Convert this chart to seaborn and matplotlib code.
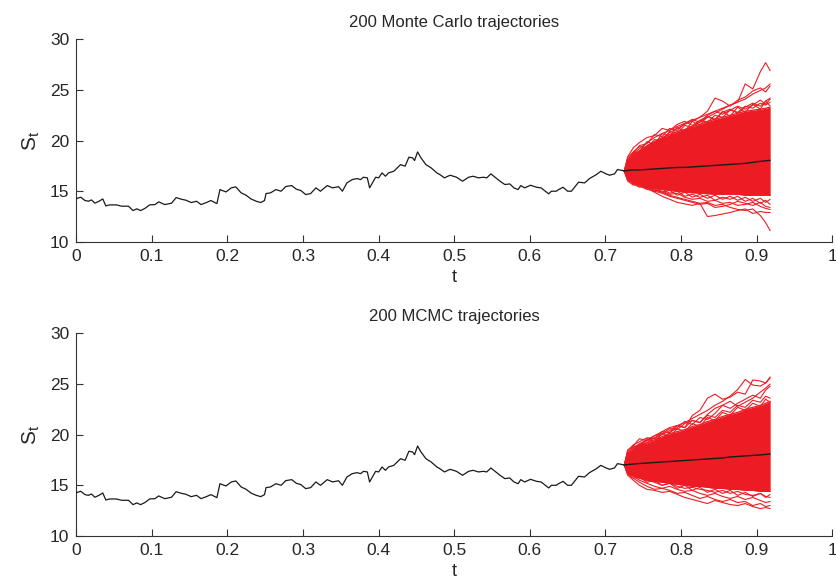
import numpy as np
import pandas as pd
import matplotlib
matplotlib.use("Agg")
import matplotlib.pyplot as plt
import seaborn as sns

sns.set_theme(style="white")
plt.rcParams["font.family"] = ["Liberation Sans", "DejaVu Sans"]

RED = "#ed1c24"
BLACK = "#1a1a1a"

# observed path (same in both panels)
OBS_T = [0.0005, 0.0058, 0.0115, 0.016, 0.020, 0.0246, 0.030, 0.035, 0.039, 0.044,
         0.053, 0.060, 0.069, 0.075, 0.080, 0.085, 0.0905, 0.097, 0.104, 0.109,
         0.117, 0.126, 0.132, 0.139, 0.145, 0.152, 0.159, 0.165, 0.172, 0.178,
         0.186, 0.190, 0.198, 0.205, 0.211, 0.218, 0.2245, 0.231, 0.238, 0.244,
         0.249, 0.251, 0.257, 0.264, 0.271, 0.277, 0.285, 0.291, 0.297, 0.3035,
         0.310, 0.317, 0.323, 0.332, 0.339, 0.347, 0.352, 0.358, 0.365, 0.3715,
         0.376, 0.380, 0.385, 0.388, 0.396, 0.400, 0.4045, 0.409, 0.413, 0.420,
         0.429, 0.435, 0.440, 0.445, 0.4475, 0.4515, 0.456, 0.4625, 0.4695, 0.477,
         0.481, 0.487, 0.4946, 0.503, 0.511, 0.519, 0.525, 0.532, 0.5385, 0.543,
         0.5485, 0.554, 0.5605, 0.567, 0.5735, 0.579, 0.5845, 0.588, 0.593, 0.601,
         0.609, 0.615, 0.6205, 0.625, 0.6285, 0.635, 0.638, 0.644, 0.650, 0.655,
         0.6645, 0.6725, 0.679, 0.688, 0.694, 0.701, 0.7055, 0.712, 0.716, 0.723,
         0.725]
OBS_S = [14.28, 14.41, 14.08, 14.01, 14.14, 13.82, 14.01, 14.24, 13.55, 13.65,
         13.65, 13.52, 13.52, 13.09, 13.26, 13.09, 13.29, 13.65, 13.68, 13.95,
         13.68, 13.82, 14.37, 14.21, 14.11, 13.88, 14.01, 13.68, 13.88, 14.08,
         13.78, 15.16, 14.93, 15.33, 15.43, 14.84, 14.61, 14.24, 14.01, 13.88,
         14.08, 14.77, 14.84, 15.16, 15.0, 15.46, 15.56, 15.2, 15.07, 14.67,
         14.77, 15.33, 15.0, 15.56, 15.33, 15.45, 15.0, 15.82, 16.15, 16.25,
         16.15, 16.38, 16.32, 15.33, 16.38, 16.32, 16.81, 16.48, 16.81, 16.97,
         17.63, 17.47, 18.36, 18.29, 18.03, 18.88, 18.29, 17.63, 17.3, 16.81,
         16.64, 16.32, 16.58, 16.38, 15.99, 16.38, 16.48, 16.32, 16.38, 16.32,
         16.71, 16.38, 15.99, 15.66, 15.72, 15.33, 15.16, 15.56, 15.33, 15.59,
         15.39, 15.33, 15.0, 14.74, 15.0, 15.0, 15.16, 15.39, 15.0, 15.0,
         15.89, 15.82, 16.25, 16.64, 16.97, 16.71, 16.58, 16.71, 17.14, 17.04,
         17.0]

# forecast grid
RED_T = [0.725, 0.7295, 0.737, 0.745, 0.755, 0.765, 0.775, 0.785, 0.795, 0.805, 0.815,
         0.825, 0.835, 0.845, 0.855, 0.865, 0.875, 0.885, 0.895, 0.905, 0.912, 0.918]

# Monte Carlo panel
MC_UP = [17.0, 18.0, 18.6, 19.0, 19.5, 19.9, 20.3, 20.6, 20.9, 21.1, 21.4,
         21.6, 21.9, 22.1, 22.3, 22.5, 22.7, 22.9, 23.0, 23.1, 23.2, 23.3]
MC_LO = [17.0, 16.1, 15.8, 15.6, 15.4, 15.3, 15.2, 15.1, 15.0, 14.9, 14.85,
         14.8, 14.75, 14.7, 14.7, 14.7, 14.7, 14.6, 14.6, 14.6, 14.6, 14.6]
MC_MEAN = [17.0, 17.05, 17.1, 17.1, 17.15, 17.2, 17.25, 17.3, 17.35, 17.35, 17.4,
           17.45, 17.5, 17.55, 17.6, 17.65, 17.7, 17.75, 17.85, 17.95, 18.0, 18.05]
MC_PATHS = [
    [17.0, 17.5, 18.0, 18.4, 18.9, 19.3, 19.7, 20.2, 20.6, 21.0, 21.4,
     21.8, 22.3, 22.7, 23.1, 23.5, 23.8, 25.6, 25.1, 26.8, 27.7, 26.9],
    [17.0, 17.8, 18.5, 18.9, 19.4, 19.8, 20.2, 20.8, 21.2, 21.6, 22.0,
     22.3, 22.9, 24.2, 23.9, 23.4, 24.0, 24.3, 24.9, 25.2, 24.8, 25.4],
    [17.0, 17.9, 18.7, 19.2, 19.8, 20.3, 20.7, 21.0, 21.4, 21.7, 21.9,
     22.3, 22.6, 22.9, 23.2, 23.5, 23.8, 24.1, 24.6, 24.95, 25.2, 25.6],
    [17.0, 18.4, 19.3, 19.8, 20.3, 20.5, 21.2, 21.0, 21.6, 21.9, 21.5,
     22.0, 22.4, 22.1, 22.8, 23.1, 22.7, 23.3, 23.7, 23.4, 23.9, 24.2],
    [17.0, 18.1, 18.8, 19.5, 19.7, 20.6, 20.4, 21.2, 21.0, 21.7, 22.1,
     21.8, 22.5, 22.9, 22.6, 23.0, 23.4, 23.1, 23.5, 24.0, 23.6, 24.1],
    [17.0, 18.3, 18.9, 19.4, 19.3, 20.1, 20.0, 20.9, 20.7, 21.5, 21.3,
     22.0, 21.8, 22.5, 22.3, 23.0, 22.8, 23.4, 23.2, 23.7, 23.5, 23.8],
    [17.0, 17.9, 18.8, 18.9, 19.9, 19.6, 20.7, 20.4, 21.3, 20.9, 21.9,
     21.5, 22.4, 22.0, 22.9, 22.4, 23.3, 22.8, 23.6, 23.1, 23.9, 23.4],
    [17.0, 16.4, 16.0, 15.7, 15.4, 15.1, 14.9, 14.6, 14.4, 14.2, 14.0,
     13.8, 13.9, 13.6, 13.7, 13.4, 13.2, 13.1, 13.25, 12.6, 11.9, 11.1],
    [17.0, 16.2, 15.9, 15.6, 15.3, 14.9, 14.5, 14.2, 13.9, 13.75, 13.6,
     13.8, 12.5, 12.6, 12.75, 12.9, 13.1, 13.25, 12.8, 13.0, 12.9, 12.9],
    [17.0, 16.3, 15.8, 15.5, 15.2, 15.0, 14.8, 14.5, 14.3, 14.1, 13.9,
     13.7, 13.8, 13.4, 13.5, 13.7, 14.0, 13.8, 13.6, 13.9, 13.5, 13.4],
    [17.0, 16.5, 16.1, 15.8, 15.5, 15.2, 15.0, 14.7, 14.8, 14.4, 14.2,
     14.3, 14.0, 14.1, 13.8, 13.9, 13.6, 13.7, 13.9, 13.5, 13.3, 13.2],
    [17.0, 16.0, 15.6, 15.7, 15.2, 15.4, 14.9, 15.1, 14.6, 14.9, 14.4,
     14.7, 14.3, 14.6, 14.2, 14.5, 14.1, 14.4, 14.0, 14.3, 13.9, 14.2],
    [17.0, 16.2, 15.7, 15.4, 15.5, 15.0, 15.2, 14.8, 15.0, 14.5, 14.7,
     14.4, 14.6, 14.1, 14.4, 14.2, 14.5, 14.0, 14.3, 13.8, 14.1, 13.7],
]

# MCMC panel
MCMC_UP = [17.0, 18.2, 18.7, 19.0, 19.2, 19.5, 19.8, 20.1, 20.3, 20.5, 20.8,
           21.0, 21.3, 21.5, 21.8, 22.0, 22.2, 22.5, 22.7, 22.9, 23.1, 23.3]
MCMC_LO = [17.0, 16.2, 15.9, 15.7, 15.5, 15.4, 15.3, 15.2, 15.1, 15.0, 14.9,
           14.9, 14.8, 14.7, 14.7, 14.6, 14.6, 14.5, 14.5, 14.4, 14.4, 14.4]
MCMC_MEAN = [17.0, 17.05, 17.1, 17.15, 17.2, 17.25, 17.3, 17.35, 17.4, 17.45, 17.5,
             17.55, 17.6, 17.65, 17.7, 17.8, 17.85, 17.9, 17.95, 18.0, 18.05, 18.1]
MCMC_PATHS = [
    [17.0, 17.9, 18.5, 19.0, 19.4, 19.7, 20.0, 20.4, 20.9, 21.2, 21.6,
     22.0, 22.4, 22.9, 23.3, 23.8, 24.45, 25.45, 24.9, 24.8, 25.1, 25.6],
    [17.0, 18.5, 18.9, 19.6, 19.4, 19.9, 20.3, 20.7, 20.9, 20.7, 21.9,
     22.4, 23.6, 24.0, 23.5, 23.7, 24.2, 24.0, 25.4, 25.3, 25.1, 25.7],
    [17.0, 18.2, 18.7, 19.1, 19.5, 19.9, 20.1, 20.6, 20.5, 21.1, 21.4,
     21.2, 22.0, 22.6, 22.9, 22.6, 23.1, 23.5, 23.9, 23.6, 24.4, 24.8],
    [17.0, 17.8, 18.4, 18.9, 19.2, 19.7, 19.6, 20.2, 20.7, 21.3, 21.0,
     21.7, 21.5, 22.1, 22.9, 23.3, 22.8, 23.2, 23.6, 24.2, 24.6, 25.0],
    [17.0, 18.4, 19.0, 19.3, 19.7, 19.6, 20.3, 20.2, 20.9, 20.7, 21.4,
     21.2, 21.9, 21.7, 22.4, 22.2, 22.9, 22.7, 23.4, 23.2, 23.8, 23.6],
    [17.0, 18.0, 18.9, 18.8, 19.6, 19.3, 20.1, 19.8, 20.6, 20.3, 21.1,
     20.8, 21.7, 21.4, 22.2, 21.9, 22.7, 22.4, 23.1, 22.8, 23.5, 23.2],
    [17.0, 16.0, 15.5, 15.0, 14.6, 14.5, 14.3, 14.4, 14.1, 13.8, 13.6,
     13.4, 13.2, 13.5, 13.3, 13.1, 13.0, 13.2, 12.9, 12.7, 12.8, 12.7],
    [17.0, 16.2, 15.7, 15.3, 14.9, 14.6, 14.7, 14.5, 14.2, 14.3, 14.0,
     13.7, 13.9, 13.6, 13.4, 13.6, 13.3, 13.4, 13.0, 13.2, 12.9, 13.0],
    [17.0, 16.4, 15.9, 15.5, 15.2, 14.9, 14.7, 14.9, 14.6, 14.4, 14.5,
     14.2, 14.0, 14.2, 13.9, 13.7, 13.9, 13.6, 13.8, 13.5, 13.3, 13.4],
    [17.0, 16.6, 16.2, 15.8, 15.5, 15.3, 15.0, 15.2, 14.9, 14.7, 14.8,
     14.6, 14.5, 14.3, 14.5, 14.2, 14.4, 14.1, 14.0, 14.2, 13.9, 13.8],
    [17.0, 16.1, 15.7, 15.8, 15.3, 15.5, 15.0, 15.2, 14.7, 15.0, 14.5,
     14.8, 14.3, 14.6, 14.2, 14.5, 14.0, 14.3, 13.9, 14.2, 13.8, 14.1],
]

TITLES = ["200 Monte Carlo trajectories", "200 MCMC trajectories"]
X_TICKS = [0, 0.1, 0.2, 0.3, 0.4, 0.5, 0.6, 0.7, 0.8, 0.9, 1]
X_LABELS = ["0", "0.1", "0.2", "0.3", "0.4", "0.5", "0.6", "0.7", "0.8", "0.9", "1"]
Y_TICKS = [10, 15, 20, 25, 30]


def paths_frame(paths):
    rows = []
    for k, vals in enumerate(paths):
        for t, s in zip(RED_T, vals):
            rows.append({"path": k, "t": t, "S": s})
    return pd.DataFrame(rows)


def draw_panel(ax, title, up, lo, mean, paths):
    ax.fill_between(RED_T, lo, up, color=RED, linewidth=0, zorder=2)
    sns.lineplot(x=RED_T, y=up, ax=ax, color=RED, linewidth=0.9, zorder=2)
    sns.lineplot(x=RED_T, y=lo, ax=ax, color=RED, linewidth=0.9, zorder=2)
    sns.lineplot(data=paths_frame(paths), x="t", y="S", units="path",
                 estimator=None, ax=ax, color=RED, linewidth=0.8, zorder=2)
    sns.lineplot(x=OBS_T, y=OBS_S, ax=ax, color=BLACK, linewidth=0.9,
                 sort=False, zorder=3)
    sns.lineplot(x=RED_T, y=mean, ax=ax, color=BLACK, linewidth=1.0, zorder=3)

    ax.set_xlim(0, 1)
    ax.set_ylim(10, 30)
    ax.set_xticks(X_TICKS)
    ax.set_xticklabels(X_LABELS)
    ax.set_yticks(Y_TICKS)
    ax.tick_params(direction="in", length=5, width=0.8, color="#333333",
                   labelsize=12.5, pad=5, bottom=True, left=True)
    for side in ["top", "right"]:
        ax.spines[side].set_visible(False)
    for side in ["left", "bottom"]:
        ax.spines[side].set_color("#333333")
        ax.spines[side].set_linewidth(0.8)
    ax.set_title(title, fontsize=12, pad=9)
    ax.set_xlabel("t", fontsize=13, labelpad=4)
    ax.set_ylabel(r"$\mathregular{S_t}$", fontsize=15, labelpad=6)


fig = plt.figure(figsize=(8.37, 5.87), dpi=100)
ax1 = fig.add_axes([0.0912, 0.588, 0.903, 0.345])
ax2 = fig.add_axes([0.0912, 0.087, 0.903, 0.345])

draw_panel(ax1, TITLES[0], MC_UP, MC_LO, MC_MEAN, MC_PATHS)
draw_panel(ax2, TITLES[1], MCMC_UP, MCMC_LO, MCMC_MEAN, MCMC_PATHS)

fig.savefig("out.png", dpi=100)
